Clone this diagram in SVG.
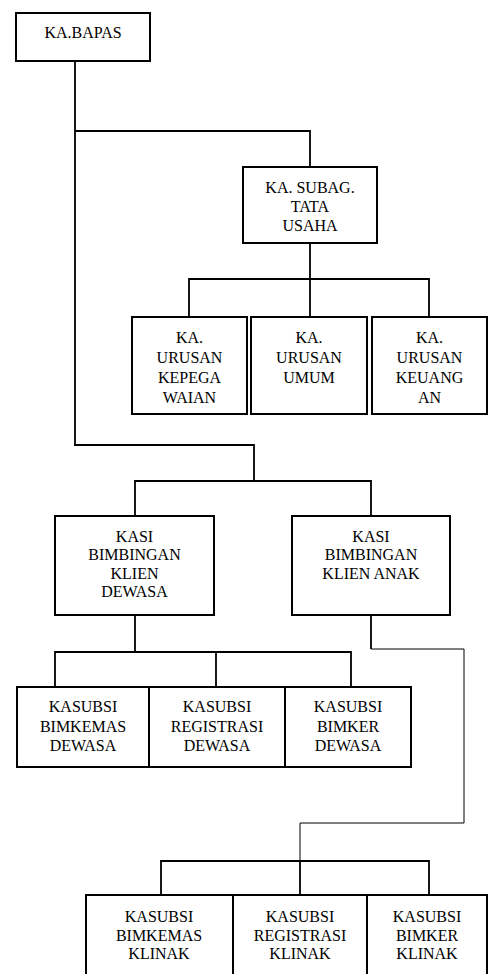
<svg xmlns="http://www.w3.org/2000/svg" width="489" height="974" viewBox="0 0 489 974">
<style>
.box{fill:#fff;stroke:#000;stroke-width:2}
.c{fill:none;stroke:#000;stroke-width:1.8}
.t{fill:none;stroke:#000;stroke-width:1}
.n text{font-family:'Liberation Serif','DejaVu Serif',serif;font-size:16px;fill:#000;text-anchor:middle}
</style>
<rect width="489" height="974" fill="#fff"/>
<g id="connectors">
<polyline class="c" points="75,61 75,445 254,445 254,481"/>
<polyline class="c" points="75,131 310,131 310,167"/>
<line class="c" x1="310" y1="243" x2="310" y2="317"/>
<polyline class="c" points="189,317 189,279 429,279 429,317"/>
<polyline class="c" points="135,516 135,481 371,481 371,516"/>
<line class="c" x1="135" y1="615" x2="135" y2="652"/>
<polyline class="c" points="55,687 55,652 351,652 351,687"/>
<line class="c" x1="216" y1="652" x2="216" y2="687"/>
<polyline class="c" points="371,615 371,649"/>
<polyline class="t" points="371,649 464,649 464,823 300,823 300,861"/>
<polyline class="c" points="161,895 161,861 429,861 429,895"/>
<line class="c" x1="300" y1="861" x2="300" y2="895"/>
</g>
<g class="n" font-family="Liberation Serif, serif">
<g id="ka-bapas"><rect class="box" x="16" y="13" width="134" height="48"/><text x="83" y="38">KA.BAPAS</text></g>
<g id="subag"><rect class="box" x="243" y="167" width="134" height="76"/><text x="310" y="193">KA. SUBAG.</text><text x="310" y="212">TATA</text><text x="310" y="231">USAHA</text></g>
<g id="urusan-kepegawaian"><rect class="box" x="132" y="317" width="115" height="97"/><text x="189.5" y="343">KA.</text><text x="189.5" y="363">URUSAN</text><text x="189.5" y="383">KEPEGA</text><text x="189.5" y="403">WAIAN</text></g>
<g id="urusan-umum"><rect class="box" x="251" y="317" width="116" height="97"/><text x="309" y="343">KA.</text><text x="309" y="363">URUSAN</text><text x="309" y="383">UMUM</text></g>
<g id="urusan-keuangan"><rect class="box" x="372" y="317" width="115" height="97"/><text x="429.5" y="343">KA.</text><text x="429.5" y="363">URUSAN</text><text x="429.5" y="383">KEUANG</text><text x="429.5" y="403">AN</text></g>
<g id="kasi-dewasa"><rect class="box" x="55" y="516" width="159" height="99"/><text x="134.5" y="542">KASI</text><text x="134.5" y="560">BIMBINGAN</text><text x="134.5" y="579">KLIEN</text><text x="134.5" y="597">DEWASA</text></g>
<g id="kasi-anak"><rect class="box" x="292" y="516" width="158" height="99"/><text x="371" y="542">KASI</text><text x="371" y="560">BIMBINGAN</text><text x="371" y="579">KLIEN ANAK</text></g>
<g id="bimkemas-dewasa"><rect class="box" x="17" y="687" width="132" height="80"/><text x="83" y="712">KASUBSI</text><text x="83" y="732">BIMKEMAS</text><text x="83" y="751">DEWASA</text></g>
<g id="registrasi-dewasa"><rect class="box" x="149" y="687" width="136" height="80"/><text x="217" y="712">KASUBSI</text><text x="217" y="732">REGISTRASI</text><text x="217" y="751">DEWASA</text></g>
<g id="bimker-dewasa"><rect class="box" x="285" y="687" width="126" height="80"/><text x="348" y="712">KASUBSI</text><text x="348" y="732">BIMKER</text><text x="348" y="751">DEWASA</text></g>
<g id="bimkemas-klinak"><rect class="box" x="86" y="895" width="147" height="90"/><text x="159" y="922">KASUBSI</text><text x="159" y="941">BIMKEMAS</text><text x="159" y="959">KLINAK</text></g>
<g id="registrasi-klinak"><rect class="box" x="233" y="895" width="134" height="90"/><text x="300" y="922">KASUBSI</text><text x="300" y="941">REGISTRASI</text><text x="300" y="959">KLINAK</text></g>
<g id="bimker-klinak"><rect class="box" x="367" y="895" width="120" height="90"/><text x="427" y="922">KASUBSI</text><text x="427" y="941">BIMKER</text><text x="427" y="959">KLINAK</text></g>
</g>
</svg>
